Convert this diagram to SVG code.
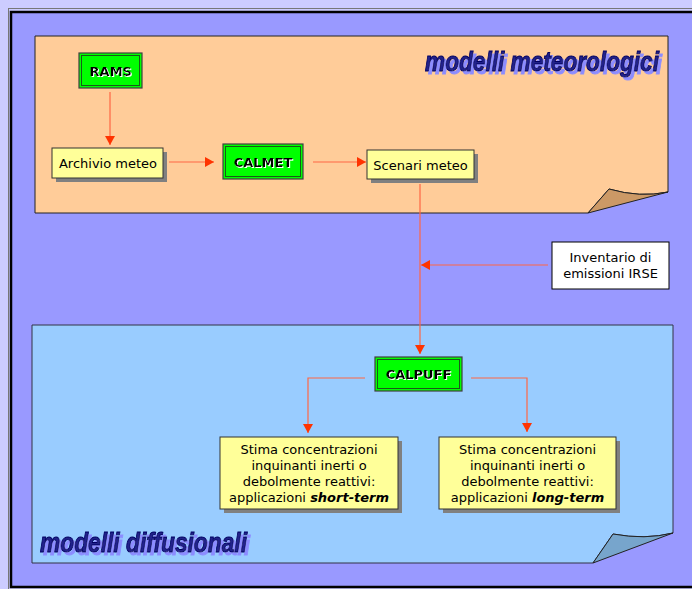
<svg xmlns="http://www.w3.org/2000/svg" width="692" height="589" viewBox="0 0 692 589">
<defs>
<marker id="arr" markerUnits="userSpaceOnUse" markerWidth="9" markerHeight="10" refX="9" refY="5" orient="auto">
<path d="M0,0 L9,5 L0,10 z" fill="#ff3300"/>
</marker>
<filter id="tshadow" x="-5%" y="-20%" width="115%" height="150%">
<feFlood flood-color="#8c8cff" result="c"/>
<feComposite in="c" in2="SourceAlpha" operator="in" result="s"/>
<feOffset in="s" dx="2.5" dy="2.5" result="o"/>
<feMerge><feMergeNode in="o"/><feMergeNode in="SourceGraphic"/></feMerge>
</filter>
<filter id="emboss" x="-10%" y="-20%" width="130%" height="150%">
<feFlood flood-color="#ffffff" result="c"/>
<feComposite in="c" in2="SourceAlpha" operator="in" result="s"/>
<feOffset in="s" dx="1" dy="1" result="o"/>
<feMerge><feMergeNode in="o"/><feMergeNode in="SourceGraphic"/></feMerge>
</filter>
<style>
.conn{fill:none;stroke:#ff6644;stroke-width:1.2}
.ybox{fill:#ffff99;stroke:#333333;stroke-width:1}
.shadow{fill:#808080}
.gbox{fill:#00ff00;stroke:#404040;stroke-width:1.2}
.ginner{fill:none;stroke:#1a5a1a;stroke-width:1}
.t{font-family:"DejaVu Sans",Verdana,sans-serif;font-size:13px;fill:#000;text-anchor:middle}
.gt{font-family:"DejaVu Sans",Verdana,sans-serif;font-size:13px;font-weight:bold;text-anchor:middle;fill:#000}
.title{font-family:"Liberation Sans",Arial,sans-serif;font-size:27px;font-weight:bold;font-style:italic;fill:#20208a;stroke:#000060;stroke-width:0.9}
</style>
</defs>
<rect x="0" y="0" width="692" height="589" fill="#ccccff"/>
<rect x="8.5" y="8.5" width="700" height="590" fill="none" stroke="#777777" stroke-width="1"/>
<rect x="11" y="12" width="700" height="575" fill="#9999ff" stroke="#000" stroke-width="2.5"/>

<g id="meteo-panel">
<path d="M35,36 L668,36 L668,192 Q640,198 609,189 L588,213 L35,213 Z" fill="#ffcc99" stroke="#222" stroke-width="1"/>
<path d="M588,213 L609,189 Q640,198 668,192 Z" fill="#cc9966" stroke="#222" stroke-width="1"/>
<text class="title" x="425" y="71" filter="url(#tshadow)" textLength="234" lengthAdjust="spacingAndGlyphs">modelli meteorologici</text>
</g>

<g id="diff-panel">
<path d="M32,325 L673,325 L673,533 Q645,540 613,534 L593,563 L32,563 Z" fill="#99ccff" stroke="#333344" stroke-width="1"/>
<path d="M593,563 L613,534 Q645,540 673,533 Z" fill="#77a5cc" stroke="#222" stroke-width="1"/>
<text class="title" x="40" y="552" filter="url(#tshadow)" textLength="207" lengthAdjust="spacingAndGlyphs">modelli diffusionali</text>
</g>

<g id="connectors">
<line class="conn" x1="110" y1="92" x2="110" y2="145" marker-end="url(#arr)"/>
<line class="conn" x1="169" y1="162" x2="214" y2="162" marker-end="url(#arr)"/>
<line class="conn" x1="313" y1="162" x2="366" y2="162" marker-end="url(#arr)"/>
<line class="conn" x1="420" y1="184" x2="420" y2="354" marker-end="url(#arr)"/>
<line class="conn" x1="548" y1="265" x2="421" y2="265" marker-end="url(#arr)"/>
<polyline class="conn" points="365,378 308,378 308,433" marker-end="url(#arr)"/>
<polyline class="conn" points="471,378 527,378 527,432" marker-end="url(#arr)"/>
</g>

<g id="rams">
<rect class="gbox" x="79" y="53" width="63" height="35"/>
<rect class="ginner" x="81.5" y="55.5" width="58" height="30"/>
<text class="gt" x="110.8" y="75.8" filter="url(#emboss)">RAMS</text>
</g>

<g id="archivio">
<rect class="shadow" x="56" y="152" width="111" height="30"/>
<rect class="ybox" x="52" y="148" width="111" height="30"/>
<text class="t" x="108" y="168">Archivio meteo</text>
</g>

<g id="calmet">
<rect class="gbox" x="223" y="144" width="80" height="35"/>
<rect class="ginner" x="225.5" y="146.5" width="75" height="30"/>
<text class="gt" x="263" y="167" filter="url(#emboss)">CALMET</text>
</g>

<g id="scenari">
<rect class="shadow" x="371" y="154" width="107" height="29"/>
<rect class="ybox" x="367" y="150" width="107" height="29"/>
<text class="t" x="420.5" y="169.5">Scenari meteo</text>
</g>

<g id="inventario">
<rect x="552" y="242" width="117" height="47" fill="#ffffff" stroke="#000" stroke-width="1"/>
<text class="t" x="610.5" y="262">Inventario di</text>
<text class="t" x="610.5" y="278">emissioni IRSE</text>
</g>

<g id="calpuff">
<rect class="gbox" x="375" y="357" width="87" height="34"/>
<rect class="ginner" x="377.5" y="359.5" width="82" height="29"/>
<text class="gt" x="418.5" y="378.5" filter="url(#emboss)">CALPUFF</text>
</g>

<g id="short-term">
<rect class="shadow" x="224" y="441" width="178" height="72"/>
<rect class="ybox" x="220" y="437" width="178" height="72"/>
<text class="t" x="309" y="454">Stima concentrazioni</text>
<text class="t" x="309" y="470">inquinanti inerti o</text>
<text class="t" x="309" y="486">debolmente reattivi:</text>
<text class="t" x="309" y="502">applicazioni <tspan font-weight="bold" font-style="italic">short-term</tspan></text>
</g>

<g id="long-term">
<rect class="shadow" x="443" y="441" width="177" height="72"/>
<rect class="ybox" x="439" y="437" width="177" height="72"/>
<text class="t" x="527.5" y="454">Stima concentrazioni</text>
<text class="t" x="527.5" y="470">inquinanti inerti o</text>
<text class="t" x="527.5" y="486">debolmente reattivi:</text>
<text class="t" x="527.5" y="502">applicazioni <tspan font-weight="bold" font-style="italic">long-term</tspan></text>
</g>
</svg>
